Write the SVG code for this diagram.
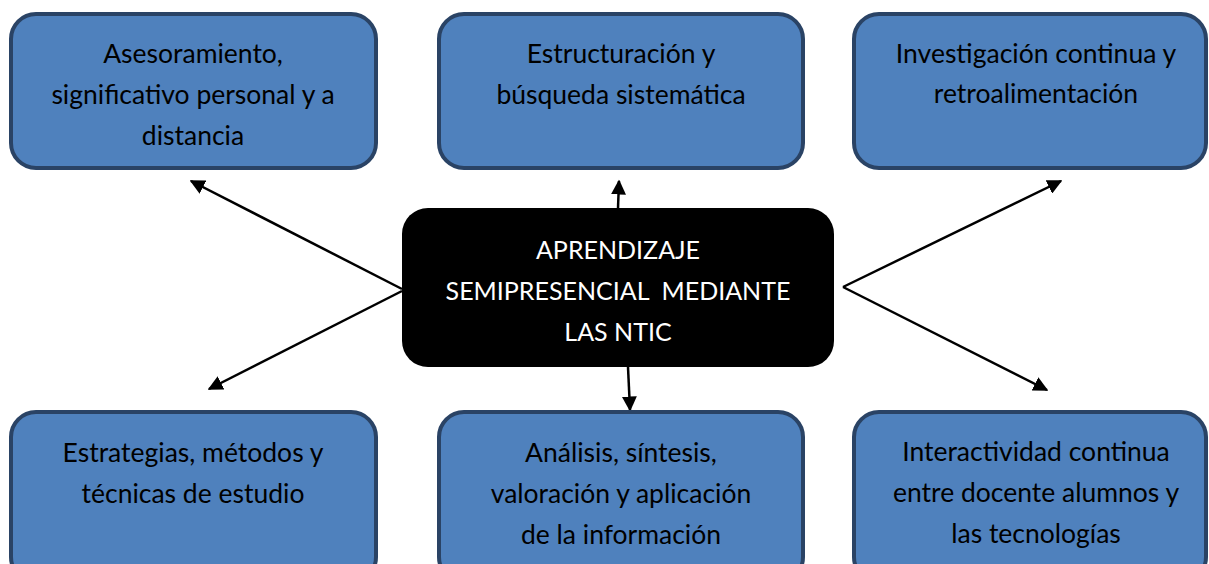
<svg xmlns="http://www.w3.org/2000/svg" width="1209" height="564" viewBox="0 0 1209 564">
<defs>
<style>
.box{fill:#4f81bd;stroke:#2a4365;stroke-width:4}
.core{fill:#000000}
.t{font-family:Lato,"Liberation Sans",sans-serif;font-size:26.5px;fill:#000000;text-anchor:middle}
.w{fill:#ffffff;font-size:25px}
.c{stroke:#000000;stroke-width:2.5;fill:none;marker-end:url(#ah)}
</style>
<marker id="ah" viewBox="0 0 10 10" refX="9" refY="5" markerWidth="6" markerHeight="6" orient="auto" markerUnits="strokeWidth">
<path d="M0,0 L10,5 L0,10 z" fill="#000000"/>
</marker>
</defs>
<rect width="1209" height="564" fill="#ffffff"/>
<g id="connectors">
<line class="c" x1="618" y1="208" x2="619" y2="181"/>
<line class="c" x1="628" y1="367" x2="630" y2="410"/>
<line class="c" x1="402" y1="289" x2="191" y2="181"/>
<line class="c" x1="402" y1="291" x2="209" y2="389"/>
<line class="c" x1="843" y1="287" x2="1061" y2="181"/>
<line class="c" x1="843" y1="287" x2="1047" y2="390"/>
</g>
<g id="n1">
<rect class="box" x="11" y="14" width="365" height="154" rx="25"/>
<text class="t" x="193" y="63">Asesoramiento,</text>
<text class="t" x="193" y="104">significativo personal y a</text>
<text class="t" x="193" y="145">distancia</text>
</g>
<g id="n2">
<rect class="box" x="439" y="14" width="364" height="154" rx="25"/>
<text class="t" x="621" y="63">Estructuración y</text>
<text class="t" x="621" y="104">búsqueda sistemática</text>
</g>
<g id="n3">
<rect class="box" x="854" y="14" width="352" height="154" rx="25"/>
<text class="t" x="1036" y="63">Investigación continua y</text>
<text class="t" x="1036" y="103">retroalimentación</text>
</g>
<g id="center">
<rect class="core" x="402" y="208" width="432" height="159" rx="26"/>
<text class="t w" x="618" y="259">APRENDIZAJE</text>
<text class="t w" x="618" y="300" xml:space="preserve">SEMIPRESENCIAL  MEDIANTE</text>
<text class="t w" x="618" y="341">LAS NTIC</text>
</g>
<g id="n4">
<rect class="box" x="11" y="412" width="365" height="170" rx="25"/>
<text class="t" x="193" y="462">Estrategias, métodos y</text>
<text class="t" x="193" y="503">técnicas de estudio</text>
</g>
<g id="n5">
<rect class="box" x="439" y="412" width="364" height="170" rx="25"/>
<text class="t" x="621" y="462">Análisis, síntesis,</text>
<text class="t" x="621" y="503">valoración y aplicación</text>
<text class="t" x="621" y="544">de la información</text>
</g>
<g id="n6">
<rect class="box" x="854" y="412" width="352" height="170" rx="25"/>
<text class="t" x="1036" y="461">Interactividad continua</text>
<text class="t" x="1036" y="502">entre docente alumnos y</text>
<text class="t" x="1036" y="543">las tecnologías</text>
</g>
</svg>
